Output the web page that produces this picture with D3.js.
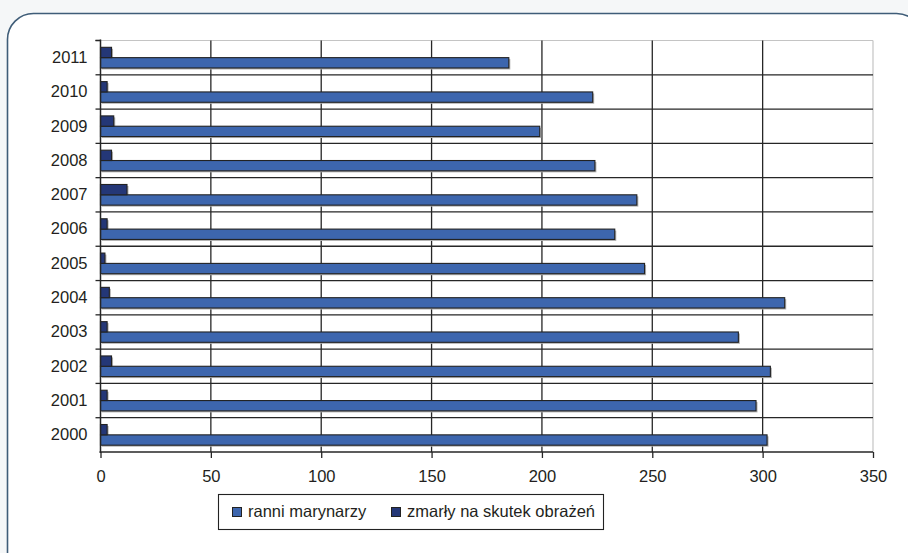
<!DOCTYPE html>
<html><head><meta charset="utf-8">
<script src="https://cdn.jsdelivr.net/npm/d3@7"></script>
<style>
html,body{margin:0;padding:0;background:#f5f7f8;}
svg{display:block;font-family:"Liberation Sans",Arial,sans-serif;}
</style></head>
<body><svg id="c" width="908" height="553"></svg>
<script>
const years = ["2000","2001","2002","2003","2004","2005","2006","2007","2008","2009","2010","2011"];
const injured = [302,297,303.5,289,310,246.5,233,243,224,199,223,185];
const died = [3,3,5,3,4,2,3,12,5,6,3,5];
const seriesNames = ["ranni marynarzy","zmarły na skutek obrażeń"];
const xTicks = [0,50,100,150,200,250,300,350];

const FS = 16.5;
const svg = d3.select("#c");
svg.append("rect").attr("x",7.5).attr("y",13.5).attr("width",915).attr("height",565)
  .attr("rx",26).attr("fill","#fff").attr("stroke","#3f5d78").attr("stroke-width",1.6);

const L=100.5, R=873, T=40.5, B=452;
const x = d3.scaleLinear().domain([0,350]).range([L,R]);
const y = d3.scaleBand().domain(years.slice().reverse()).range([T,B]).paddingInner(0).paddingOuter(0);
const sub = d3.scaleBand().domain(["died","injured"]).range([0,y.bandwidth()]).paddingInner(0).paddingOuter(0.66);

const g = svg.append("g");
g.append("line").attr("x1",L).attr("x2",R).attr("y1",T).attr("y2",T).attr("stroke","#c4c4c4").attr("stroke-width",1.2);
g.append("line").attr("x1",R).attr("x2",R).attr("y1",T).attr("y2",B).attr("stroke","#c4c4c4").attr("stroke-width",1.2);
g.selectAll(".vg").data(xTicks.filter(d=>d>0&&d<350)).enter().append("line")
  .attr("x1",d=>x(d)).attr("x2",d=>x(d)).attr("y1",T).attr("y2",B).attr("stroke","#262626").attr("stroke-width",1.3);
const bounds = years.slice(0,11).map(yr=>y(yr));
g.selectAll(".hg").data(bounds).enter().append("line")
  .attr("x1",L).attr("x2",R).attr("y1",d=>d).attr("y2",d=>d).attr("stroke","#262626").attr("stroke-width",1.3);

const data = years.map((yr,i)=>({year:yr,injured:injured[i],died:died[i]}));
const sh = g.append("g");
const colors = {injured:"#3d66ae", died:"#243777"};
["injured","died"].forEach(k=>{
  sh.selectAll(".s"+k).data(data).enter().append("rect")
    .attr("x",L+1.5).attr("y",d=>y(d.year)+sub(k)+1.5)
    .attr("width",d=>x(d[k])-L).attr("height",sub.bandwidth())
    .attr("fill","#b0b0b0");
});
["injured","died"].forEach(k=>{
  g.selectAll(".b"+k).data(data).enter().append("rect")
    .attr("x",L).attr("y",d=>y(d.year)+sub(k))
    .attr("width",d=>x(d[k])-L).attr("height",sub.bandwidth())
    .attr("fill",colors[k]).attr("stroke","#222").attr("stroke-width",1.1);
});

const yAxis = d3.axisLeft(y).tickSize(0).tickPadding(13);
const ya = svg.append("g").attr("transform",`translate(${L},0)`).call(yAxis);
ya.select(".domain").remove();
ya.selectAll("text").attr("font-size",FS).attr("fill","#231f20").attr("font-family","Liberation Sans, Arial, sans-serif");
svg.append("line").attr("x1",L).attr("x2",L).attr("y1",T-1).attr("y2",B+1).attr("stroke","#262626").attr("stroke-width",1.5);
const allB = years.map(yr=>y(yr)).concat([T]);
svg.selectAll(".lt").data(allB).enter().append("line")
  .attr("x1",L-5).attr("x2",L).attr("y1",d=>d).attr("y2",d=>d).attr("stroke","#262626").attr("stroke-width",1.3);

const xAxis = d3.axisBottom(x).tickValues(xTicks).tickSize(6).tickPadding(12);
const xa = svg.append("g").attr("transform",`translate(0,${B})`).call(xAxis);
xa.select(".domain").remove();
xa.selectAll("line").attr("stroke","#262626").attr("stroke-width",1.3);
xa.selectAll("text").attr("font-size",FS).attr("fill","#231f20").attr("font-family","Liberation Sans, Arial, sans-serif");
svg.append("line").attr("x1",L-1).attr("x2",R).attr("y1",B).attr("y2",B).attr("stroke","#262626").attr("stroke-width",1.5);

const lg = svg.append("g");
lg.append("rect").attr("x",218.5).attr("y",494.5).attr("width",385).attr("height",35)
  .attr("fill","#fff").attr("stroke","#222").attr("stroke-width",1.1);
const lx = [232,391];
const lc = [colors.injured, colors.died];
seriesNames.forEach((n,i)=>{
  lg.append("rect").attr("x",lx[i]+0.5).attr("y",507.5).attr("width",9).attr("height",9)
    .attr("fill",lc[i]).attr("stroke","#222").attr("stroke-width",1);
  lg.append("text").attr("x",lx[i]+16).attr("y",517).attr("font-size",FS).attr("fill","#231f20").text(n);
});
</script></body></html>
